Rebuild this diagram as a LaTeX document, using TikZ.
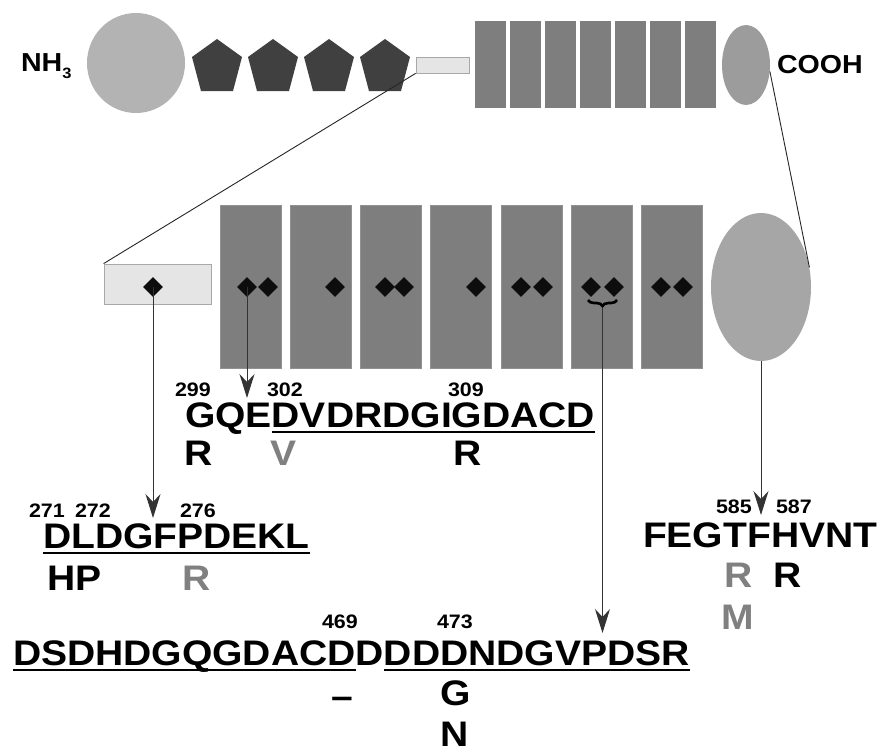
\documentclass[tikz,border=0pt]{standalone}
\usepackage{fontspec}
\setmainfont{Liberation Sans}
\newfontfamily\seqfont{Liberation Sans}[FakeStretch=1.1]
\usetikzlibrary{shapes.geometric,arrows.meta,decorations.pathreplacing}
\definecolor{pentc}{HTML}{404040}
\definecolor{barc}{HTML}{7E7E7E}
\definecolor{circc}{HTML}{B3B3B3}
\definecolor{sellc}{HTML}{9C9C9C}
\definecolor{bellc}{HTML}{A6A6A6}
\definecolor{lightc}{HTML}{E5E5E5}
\definecolor{lightb}{HTML}{A8A8A8}
\definecolor{gtext}{HTML}{808080}
\begin{document}
\begin{tikzpicture}[x=1pt,y=-1pt,
  seq/.style={inner sep=0pt, outer sep=0pt, anchor=base west, font=\seqfont\bfseries\fontsize{35.5}{36}\selectfont},
  gseq/.style={seq, text=gtext},
  num/.style={inner sep=0pt, outer sep=0pt, anchor=base west, font=\seqfont\bfseries\fontsize{19.5}{20}\selectfont},
  term/.style={inner sep=0pt, outer sep=0pt, anchor=base west, font=\seqfont\bfseries\fontsize{26}{26}\selectfont},
  uline/.style={line width=2.6pt},
  arr/.style={draw=black!80, line width=1pt, -{Stealth[length=24pt,width=15pt,inset=8pt]}},
  thin/.style={draw=black!85, line width=0.9pt},
  dia/.style={diamond, fill=black!95, inner sep=0pt, minimum width=20pt, minimum height=20pt},
  tbar/.style={fill=barc},
  mbar/.style={fill=barc, draw=barc!85!white, line width=0.6pt},
  pent/.style={fill=pentc}
]
\useasboundingbox[fill=white] (0,0) rectangle (881,752);

% ---------- top row ----------
\node[term] (nh) at (21,72) {NH\raisebox{-6pt}{\fontsize{15}{15}\selectfont 3}};
\node[ellipse, fill=circc, inner sep=0pt, minimum width=98pt, minimum height=100pt] (bigc) at (136,63) {};
\foreach \c in {217,273,329,385}{
  \fill[pent] (\c,39) -- (\c+25,57) -- (\c+16,91) -- (\c-16,91) -- (\c-25,57) -- cycle;
}
\node[rectangle, fill=lightc, draw=lightb, line width=0.8pt, inner sep=0pt,
      minimum width=53pt, minimum height=16pt] (srect) at (442.5,65) {};
\foreach \i in {0,...,6}{
  \fill[tbar] (475+35*\i,21) rectangle (506+35*\i,108);
}
\node[ellipse, fill=sellc, inner sep=0pt, minimum width=48pt, minimum height=80pt] (sell) at (746,65) {};
\node[term] (cooh) at (777,74) {COOH};

% ---------- middle row ----------
\node[rectangle, fill=lightc, draw=lightb, line width=0.8pt, inner sep=0pt,
      minimum width=107pt, minimum height=40pt] (lrect) at (157.5,284) {};
\foreach \i in {0,...,6}{
  \draw[mbar] (220+70.2*\i,205) rectangle (281+70.2*\i,368);
}
\node[ellipse, fill=bellc, inner sep=0pt, minimum width=100pt, minimum height=148pt] (bell) at (761,287) {};

\node[dia] (d0) at (153,287) {};
\node[dia] (d1) at (247,287) {};
\node[dia] (d2) at (268,287) {};
\node[dia] (d3) at (335,287) {};
\node[dia] (d4) at (385,287) {};
\node[dia] (d5) at (404,287) {};
\node[dia] (d6) at (476,287) {};
\node[dia] (d7) at (521,287) {};
\node[dia] (d8) at (543,287) {};
\node[dia] (d9) at (591,287) {};
\node[dia] (d10) at (614,287) {};
\node[dia] (d11) at (661,287) {};
\node[dia] (d12) at (683,287) {};
\draw[decorate, decoration={brace, mirror, amplitude=6pt}, line width=2.6pt] (588,300) -- (617,300);
\coordinate (bracetip) at (602.5,308);

% zoom connectors
\draw[thin] (srect.south west) -- (lrect.north west);
\draw[thin] (sell.-15) -- (bell.22);

% ---------- sequence GQE... ----------
\node[num] (n299) at (175,396) {299};
\node[num] (n302) at (267,396) {302};
\node[num] (n309) at (448,396) {309};
\node[seq] (gqe) at (185,427) {GQE};
\node[seq, anchor=base west] (dvd) at (gqe.base east) {DVDRDGIGDACD};
\draw[uline] ([yshift=-5pt]dvd.base west) -- ([yshift=-5pt]dvd.base east);
\node[seq] (r299) at (184,465) {R};
\node[gseq] (v302) at (270,465) {V};
\node[seq] (r309) at (453,465) {R};

% ---------- sequence DLDGFPDEKL ----------
\node[num] (n271) at (29,517) {271};
\node[num] (n272) at (75,517) {272};
\node[num] (n276) at (180,517) {276};
\node[seq] (dld) at (43,548) {DLDGFPDEKL};
\draw[uline] ([yshift=-5pt]dld.base west) -- ([yshift=-5pt]dld.base east);
\node[seq] (hp) at (47,590) {HP};
\node[gseq] (r276) at (182,590) {R};

% ---------- sequence FEGTFHVNT ----------
\node[num] (n585) at (716,513) {585};
\node[num] (n587) at (776,513) {587};
\node[seq] (feg) at (643,547) {FEGTFHVNT};
\node[gseq] (r585) at (724,587) {R};
\node[seq] (r587) at (773,587) {R};
\node[gseq] (m585) at (721,629) {M};

% ---------- bottom sequence ----------
\node[num] (n469) at (322,628) {469};
\node[num] (n473) at (437,628) {473};
\node[seq] (b1) at (13,665) {DSDHDGQGDACD};
\node[seq, anchor=base west] (b2) at (b1.base east) {D};
\node[seq, anchor=base west] (b3) at (b2.base east) {DDDNDGVPDSR};
\draw[uline] ([yshift=-5pt]b1.base west) -- ([yshift=-5pt]b1.base east);
\draw[uline] ([yshift=-5pt]b3.base west) -- ([yshift=-5pt]b3.base east);
\node[seq] (del) at (331,708) {–};
\node[seq] (g473) at (440,705) {G};
\node[seq] (n473b) at (440,746) {N};

% ---------- arrows ----------
\coordinate (tipL) at (153,518);
\coordinate (tipG) at (247,398);
\coordinate (tipB) at (602.5,633);
\coordinate (tipF) at (761,515);
\draw[arr] (d0.center) -- (tipL);
\draw[arr] (d1.center) -- (tipG);
\draw[arr] (bracetip) -- (tipB);
\draw[arr] (bell.south) -- (tipF);
\end{tikzpicture}
\end{document}
